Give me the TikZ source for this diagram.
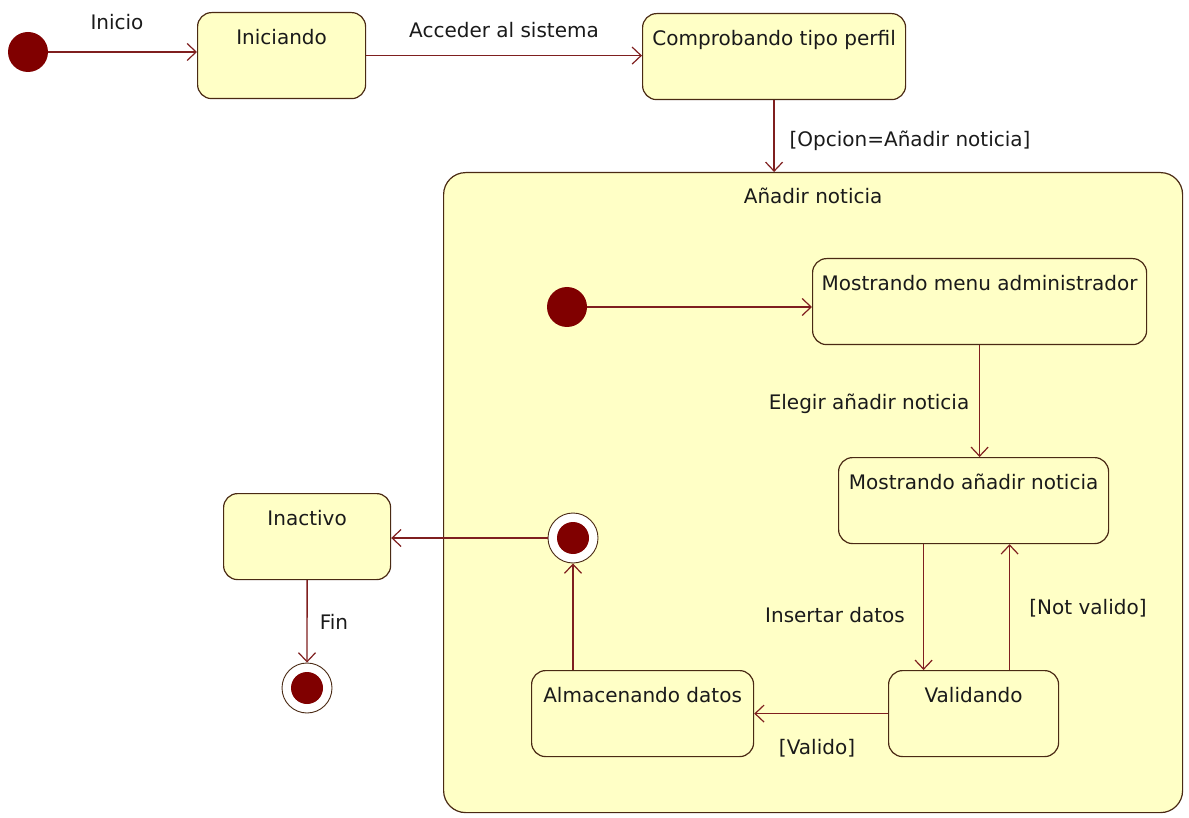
\documentclass[tikz,border=0pt]{standalone}
\usepackage{fontspec}
\setmainfont{DejaVu Sans}
\usepackage{xcolor}
\usetikzlibrary{positioning,arrows.meta,calc}
\definecolor{linea}{HTML}{7F1F1F}
\definecolor{borde}{HTML}{4A2A14}
\definecolor{relleno}{HTML}{FFFFC6}
\definecolor{punto}{HTML}{800000}
\definecolor{tinta}{HTML}{1A1A1A}
\tikzset{
  caja/.style    = {draw=borde, fill=relleno, line width=1.2pt, rounded corners=14pt,
                    anchor=north west, inner ysep=0pt, text height=32pt, text depth=54pt,
                    font=\fontsize{20}{24}\selectfont, text=tinta},
  compuesto/.style = {draw=borde, fill=relleno, line width=1.2pt, rounded corners=22pt,
                    anchor=north west, inner ysep=0pt, minimum width=739pt,
                    text height=31pt, text depth=609pt,
                    font=\fontsize{20}{24}\selectfont, text=tinta},
  inicial/.style = {circle, fill=punto, minimum size=40pt, inner sep=0pt},
  final/.style   = {circle, draw=borde, fill=white, line width=0.9pt, minimum size=50pt, inner sep=0pt,
                    path picture={\fill[punto] (path picture bounding box.center) circle (16pt);}},
  trans/.style   = {draw=linea, line width=1.4pt, -{Straight Barb[length=9pt,width=17pt,line width=1.2pt]}},
  etiq/.style    = {font=\fontsize{20}{24}\selectfont, text=tinta, inner sep=0pt},
}
\newcommand{\caja}[5]{\node[caja, minimum width=#4] (#1) at (#2,#3) {#5};}

\begin{document}
\begin{tikzpicture}[x=1pt,y=-1pt]
\useasboundingbox (0,0) rectangle (1189,818);

% ------------------------------------------------------------------ outer states
\node[inicial] (ini0) at (28,52) {};
\caja{ini}{197}{12}{168pt}{Iniciando}
\caja{comp}{642}{13}{263pt}{Comprobando tipo perfil}
\caja{inact}{223}{493}{167pt}{Inactivo}
\node[final] (fin0) at (307,688) {};

% ------------------------------------------------------------------ composite state
\node[compuesto] (anad) at (443,172) {Añadir noticia};
\node[inicial] (ini1) at (567,307) {};
\caja{menu}{812}{258}{334pt}{Mostrando menu administrador}
\caja{mostrar}{838}{457}{270pt}{Mostrando añadir noticia}
\caja{valid}{888}{670}{170pt}{Validando}
\caja{alm}{531}{670}{222pt}{Almacenando datos}
\node[final] (fin1) at (573,538) {};

% ------------------------------------------------------------------ transitions
\draw[trans] (ini0) -- (ini0 -| ini.west);
\draw[trans] (ini.east) -- (ini.east -| comp.west);
\draw[trans] (comp.south) -- (comp.south |- anad.north);
\draw[trans] (ini1) -- (ini1 -| menu.west);
\draw[trans] (menu.south) -- (menu.south |- mostrar.north);
\draw[trans] ([xshift=-50pt]mostrar.south) -- ([xshift=-50pt]valid.north);
\draw[trans] ([xshift=36pt]valid.north) -- ([xshift=36pt]mostrar.south);
\draw[trans] (valid.west) -- (alm.east);
\draw[trans] (fin1 |- alm.north) -- (fin1);
\draw[trans] (fin1) -- (fin1 -| inact.east);
\draw[trans] (inact) -- (fin0);

% ------------------------------------------------------------------ labels
\node[etiq] (lInicio)  at (117,22)  {Inicio};
\node[etiq] (lAcceder) at (504,30)  {Acceder al sistema};
\node[etiq] (lOpcion)  at (910,141) {[Opcion=Añadir noticia]};
\node[etiq] (lElegir)  at (869,404) {Elegir añadir noticia};
\node[etiq] (lInsert)  at (835,615) {Insertar datos};
\node[etiq] (lNot)     at (1088,608){[Not valido]};
\node[etiq] (lValido)  at (817,748) {[Valido]};
\node[etiq] (lFin)     at (334,622) {Fin};

\end{tikzpicture}
\end{document}
